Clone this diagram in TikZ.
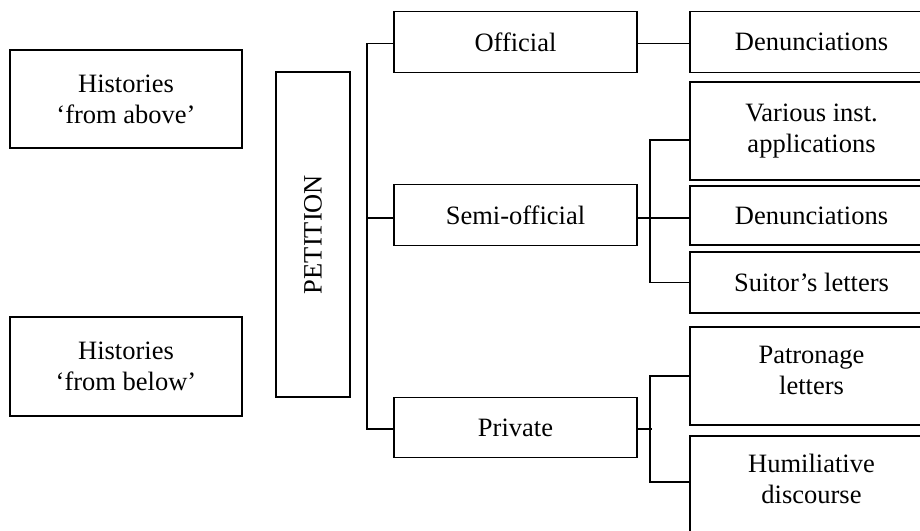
\documentclass[tikz,border=0pt]{standalone}
\usepackage{fontspec}
\setmainfont{Liberation Serif}
\newcommand{\dfnt}{\fontsize{26.5}{31}\selectfont}
\begin{document}
\begin{tikzpicture}[x=1pt,y=-1pt,
  box/.style={draw, line width=1.7pt, inner sep=0pt, align=center, font=\dfnt, minimum width=#1},
  box/.default=243pt,
  conn/.style={line width=1.7pt}]
\useasboundingbox (0,0) rectangle (920,530);
\clip (0,0) rectangle (920,530);
% left
\node[box=232pt, minimum height=98pt] (ha) at (126,99) {Histories\\`from above'};
\node[box=232pt, minimum height=99pt] (hb) at (126,366.5) {Histories\\`from below'};
\node[box=74pt, minimum height=325pt] (pet) at (313,234.5) {};
\node[font=\dfnt, rotate=90] (pett) at (pet.center) {PETITION};
% middle
\node[box, minimum height=61pt] (off) at (515.5,42) {Official};
\node[box, minimum height=61pt] (semi) at (515.5,215) {Semi-official};
\node[box, minimum height=60pt] (priv) at (515.5,427.5) {Private};
% right
\node[box, minimum height=61pt] (d1) at (811.5,42) {Denunciations};
\node[box, minimum height=98pt] (var) at (811.5,131) {Various inst.\\applications};
\node[box, minimum height=59pt] (d2) at (811.5,215.5) {Denunciations};
\node[box, minimum height=61pt] (suit) at (811.5,282.5) {Suitor's letters};
\node[box, minimum height=98pt, text depth=12pt] (pat) at (811.5,376) {Patronage\\letters};
\node[box, minimum height=98pt, text depth=12pt] (hum) at (811.5,485) {Humiliative\\discourse};
% connectors
\draw[conn] ([yshift=-1.5pt]off.west) -- ++(-26,0) |- ([yshift=-1.5pt]priv.west);
\draw[conn] ([yshift=-3pt]semi.west) -- ++(-26,0);
\draw[conn] ([yshift=-1.5pt]off.east) -- ([yshift=-1.5pt]d1.west);
\draw[conn] ([yshift=-3pt]semi.east) -- ([yshift=-2.5pt]d2.west);
\draw[conn] ([yshift=-9pt]var.west) -- ++(-39,0) |- (suit.west);
\draw[conn] (pat.west) -- ++(-39,0) |- ([yshift=3pt]hum.west);
\draw[conn] ([yshift=-1.5pt]priv.east) -- ++(14,0);
\end{tikzpicture}
\end{document}
